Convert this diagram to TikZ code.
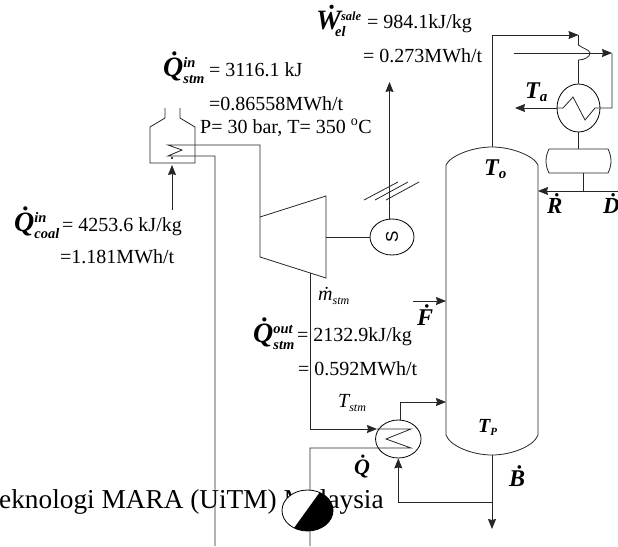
\documentclass[tikz,border=0pt]{standalone}
\usepackage{fontspec}
\setmainfont{Liberation Serif}
\setsansfont{Liberation Sans}
\usetikzlibrary{arrows.meta,shapes.geometric}
\newcommand{\flowsym}[3]{\fontsize{28}{28}\selectfont\bfseries\itshape #1\fontsize{14.5}{14.5}\selectfont\rlap{\raisebox{9pt}{#2}}\raisebox{-7pt}{#3}}
\newcommand{\plainsize}[1]{\fontsize{#1}{#1}\selectfont}
\tikzset{
    pipe/.style={line width=0.8pt,black!85},
    flow/.style={pipe,-{Stealth[length=10pt,width=8pt,inset=1pt]}},
    unit/.style={draw,ellipse,line width=0.8pt,inner sep=0pt,fill=white},
    val/.style={anchor=base west,inner sep=0pt,font=\plainsize{20}},
    sym/.style={anchor=base west,inner sep=0pt}
}
\begin{document}
\begin{tikzpicture}[x=1pt,y=-1pt]
    \useasboundingbox (0,0) rectangle (618,546);
    \node[val,font=\plainsize{27.3}] (uni) at (-1,508) {eknologi MARA (UiTM) Malaysia};
    \coordinate (coltop) at (492,147);
    \coordinate (colbot) at (492,455);
    \coordinate (feed) at (413,301);
    \coordinate (refl) at (618,191);
    \coordinate (bend) at (578.5,35);
    \coordinate (cwin) at (514,53);
    \coordinate (cwcor) at (612,53);
    \coordinate (cwret) at (612,108);
    \coordinate (ta) at (515,108);
    \coordinate (btm) at (492,529);
    \coordinate (tee) at (492,502);
    \coordinate (drumtop) at (578.5,149);
    \coordinate (drumbot) at (583,173);
    \coordinate (drumtee) at (583,191);
    \coordinate (power) at (389.5,82);
    \coordinate (coalin) at (172,210);
    \coordinate (coilin) at (215,546);
    \coordinate (pumpin) at (310,546);
    \coordinate (stmtop) at (260,145);
    \coordinate (turbl) at (260,217);
    \coordinate (turbr) at (326,196);
    \coordinate (turbrb) at (326,278);
    \coordinate (turblb) at (260,257);
    \coordinate (stmout) at (310,273);
    \node[unit,minimum width=43pt,minimum height=48pt] (cond) at (578.5,108) {};
    \node[unit,minimum width=45.5pt,minimum height=38pt] (reb) at (398.3,439) {};
    \node[unit,minimum width=44pt,minimum height=36pt] (gen) at (392,237) {};
    \node[rotate=90,font=\sffamily\plainsize{17}] (genS) at (392,237) {S};
    % column
    \draw[pipe] (446,435) -- (446,165) .. controls (450,156) and (472,147) .. (coltop) .. controls (512,147) and (534,156) .. (538,165) -- (538,435) .. controls (534,446) and (512,455) .. (colbot) .. controls (472,455) and (450,446) .. (446,435);
    % condenser and drum
    \draw[pipe] (549,149) -- (608,149) .. controls (612,157) and (612,165) .. (608,173) -- (549,173) .. controls (545,165) and (545,157) .. (549,149);
    \draw[flow] (coltop) |- (bend);
    \draw[pipe] (bend) -- (578.5,45) .. controls (582,48) and (590,50) .. (590,53) .. controls (590,57) and (584,60) .. (578.5,60) -- (cond.north);
    \draw[flow] (cwin) -- (cwcor);
    \draw[pipe] (cwcor) -- (cwret) -- (595,108) -- (585,120) -- (573,97) -- (563,108) -- (cond.west);
    \draw[flow] (cond.west) -- (ta);
    \draw[pipe] (cond.south) -- (drumtop);
    \draw[pipe] (drumbot) -- (drumtee);
    \draw[flow] (refl) -- (538,191);
    % bottom of column
    \draw[flow] (colbot) -- (btm);
    \draw[flow] (tee) -| (reb.south);
    \draw[flow] (feed) -- (446,301);
    \draw[flow] (reb.north) ++(2.5,0) |- (446,402);
    % steam
    \draw[flow] (stmout) |- (377,429);
    \draw[pipe] (377,429) -- (411,429) -- (386,439) -- (411,448) -- (310,448) -- (pumpin);
    \node[unit,minimum width=51pt,minimum height=41pt] (pump) at (307.5,510.5) {};
    \begin{scope}
        \clip (307.5,510.5) ellipse [x radius=25.5,y radius=20.5];
        \fill[black] (325,485) -- (340,485) -- (340,535) -- (289,535) -- cycle;
    \end{scope}
    % boiler
    \draw[pipe] (165,108) -- (165,118) -- (150,127) -- (150,163) -- (195,163) -- (195,127) -- (180,118) -- (180,108);
    \draw[pipe] (turbl) -- (stmtop) -- (168,145) -- (182,150) -- (168,156) -- (215,156) -- (coilin);
    \draw[flow] (coalin) -- (172,165);
    \fill (172,158) circle (1.2);
    % turbine and generator
    \draw[pipe] (turbl) -- (turbr) -- (turbrb) -- (turblb) -- cycle;
    \draw[pipe] (326,237) -- (gen.west);
    \draw[flow] (389.5,219.2) -- (power);
    \draw[pipe] (364,200) -- (398,182);
    \draw[pipe] (375,200) -- (408,182);
    \draw[pipe] (386,200) -- (419,182);
    % labels
    \node[sym] (qstm) at (163,76) {\flowsym{\.{Q}}{in}{stm}};
    \node[val] (qstma) at (209,76) {= 3116.1 kJ};
    \node[val] (qstmb) at (209,110) {=0.86558MWh/t};
    \node[val] (steam) at (200,133) {P= 30 bar, T= 350 \textsuperscript{o}C};
    \node[sym] (wel) at (316,29) {\flowsym{\.{W}}{\plainsize{12.5}sale}{\kern-6pt el}};
    \node[val] (wela) at (367,28) {= 984.1kJ/kg};
    \node[val] (welb) at (363,62) {= 0.273MWh/t};
    \node[sym] (qcoal) at (14,231) {\flowsym{\.{Q}}{in}{coal}};
    \node[val] (qcoala) at (62,231) {= 4253.6 kJ/kg};
    \node[val] (qcoalb) at (60,263) {=1.181MWh/t};
    \node[sym] (qout) at (253,342) {\flowsym{\.{Q}}{out}{stm}};
    \node[val] (qouta) at (297,341) {= 2132.9kJ/kg};
    \node[val] (qoutb) at (298,375) {= 0.592MWh/t};
    \node[sym] (mstm) at (318,300) {\plainsize{20}\itshape\.{m}\plainsize{12}\raisebox{-4pt}{stm}};
    \node[sym] (tstm) at (338,407) {\plainsize{20}\itshape T\plainsize{12}\raisebox{-4pt}{stm}};
    \node[sym] (ff) at (417,325) {\plainsize{24}\bfseries\itshape\.{F}};
    \node[sym] (bb) at (509,486) {\plainsize{24}\bfseries\itshape\.{B}};
    \node[sym] (qq) at (354,474) {\plainsize{22}\bfseries\itshape\.{Q}};
    \node[sym] (rr) at (547,213) {\plainsize{23}\bfseries\itshape\.{R}};
    \node[sym] (dd) at (603,213) {\plainsize{23}\bfseries\itshape\.{D}};
    \node[sym] (to) at (484,175) {\plainsize{24}\bfseries\itshape T\plainsize{15}\raisebox{-3pt}{o}};
    \node[sym] (ta1) at (525,98) {\plainsize{24}\bfseries\itshape T\plainsize{15}\raisebox{-3pt}{a}};
    \node[sym] (tp) at (478,432) {\plainsize{20}\bfseries\itshape T\plainsize{11}\raisebox{-3pt}{P}};
\end{tikzpicture}
\end{document}
